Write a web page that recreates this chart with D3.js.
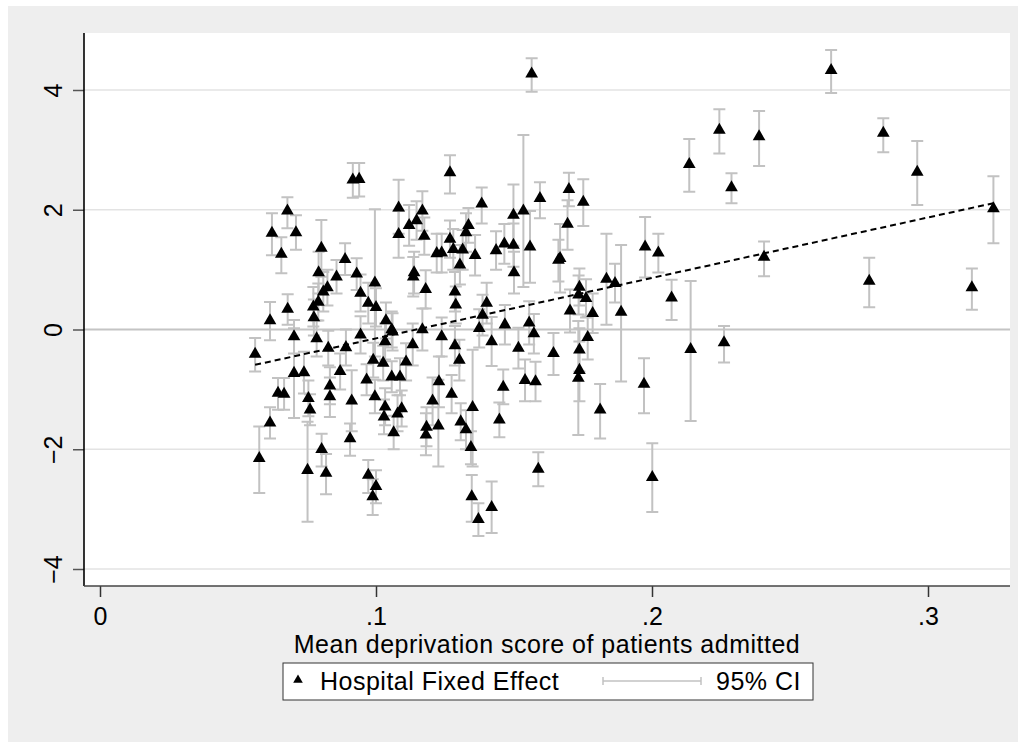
<!DOCTYPE html>
<html>
<head>
<meta charset="utf-8">
<script src="https://cdn.jsdelivr.net/npm/d3@7"></script>
<style>
  body { margin: 0; background: #fff; }
  text { font-family: "Liberation Sans", Arial, sans-serif; fill: #000; }
</style>
</head>
<body>
<div id="chart"></div>
<script>
// Mean deprivation score of each hospital (x)
const deprivation = [
  .0562, .0577, .0616, .0623, .0616, .0645, .0667, .0657, .0679, .0680,
  .0710, .0703, .0739, .0703, .0785, .0755, .0761, .0752, .0803, .0819,
  .0827, .0833, .0833, .0870, .0891, .0912, .0906, .0944, .0966, .0972,
  .1000, .0988, .0990, .0996, .1026, .1033, .1029, .1064, .1057, .1078,
  .1033, .1060, .1087, .1093, .0916, .0939, .0802, .0888, .0792, .0857,
  .0930, .0996, .0824, .0809, .0944, .0791, .0972, .0773, .1000, .0775,
  .1036, .1082, .1082, .1268, .1168, .1383, .1594, .1498, .1534, .1120,
  .1147, .1175, .1335, .1326, .1268, .1280, .1220, .1238, .1314, .1359,
  .1435, .1465, .1498, .1558, .1661, .1304, .1138, .1135, .1500, .1180,
  .1286, .1289, .1401, .1386, .1374, .1467, .1555, .1572, .1168, .1238,
  .1057, .1133, .1109, .1286, .1302, .1228, .1205, .1274, .1350, .1183,
  .1181, .1226, .1307, .1326, .1344, .1347, .1371, .1419, .1419, .1516,
  .1643, .1461, .1540, .1578, .1447, .1588, .2135, .2288, .1699, .1751,
  .1694, .1667, .1975, .2023, .2406, .1835, .1866, .2071, .1737, .1734,
  .1761, .1703, .1785, .1888, .1767, .1737, .1737, .1733, .1812, .1971,
  .2140, .2261, .2001, .2649, .2838, .2961, .3237, .2787, .3159, .2388,
  .2244, .1564
];

// Hospital fixed effect estimates (y)
const fixedEffect = [
  -0.41, -2.15, 0.15, 1.61, -1.56, -1.06, -1.08, 1.26, 1.98, 0.34,
  1.62, -0.73, -0.72, -0.12, -0.15, -1.15, -1.34, -2.35, -2.00, -2.40,
  -0.31, -0.94, -1.12, -0.70, -0.30, -1.19, -1.82, -0.09, -0.84, -2.43,
  -2.62, -2.79, -0.51, -1.12, -0.56, -1.29, -1.46, -1.72, -0.79, -1.41,
  -0.20, -0.04, -0.79, -1.32, 2.50, 2.51, 1.36, 1.17, 0.95, 0.88,
  0.93, 0.78, 0.70, 0.63, 0.61, 0.46, 0.44, 0.38, 0.37, 0.20,
  0.15, 2.03, 1.59, 2.62, 1.98, 2.10, 2.19, 1.91, 1.98, 1.74,
  1.82, 1.56, 1.74, 1.62, 1.51, 1.34, 1.27, 1.28, 1.33, 1.24,
  1.32, 1.43, 1.41, 1.38, 1.16, 1.08, 0.95, 0.88, 0.95, 0.67,
  0.63, 0.41, 0.44, 0.24, 0.02, 0.08, 0.11, -0.07, 0.00, -0.12,
  0.00, -0.25, -0.54, -0.27, -0.51, -0.87, -1.19, -1.08, -1.30, -1.63,
  -1.76, -1.61, -1.54, -1.67, -1.97, -2.79, -3.17, -2.97, -0.20, -0.31,
  -0.40, -0.96, -0.85, -0.87, -1.51, -2.33, 2.76, 2.37, 2.34, 2.13,
  1.76, 1.19, 1.38, 1.28, 1.21, 0.84, 0.77, 0.53, 0.71, 0.58,
  0.52, 0.31, 0.27, 0.29, -0.13, -0.34, -0.68, -0.81, -1.34, -0.91,
  -0.33, -0.22, -2.47, 4.33, 3.28, 2.63, 2.02, 0.81, 0.70, 3.22,
  3.33, 4.27
];

// 95% confidence interval, lower bound
const ciLower = [
  -0.70, -2.73, -0.18, 1.24, -1.82, -1.34, -1.34, 0.94, 1.69, 0.08,
  1.33, -1.48, -1.07, -0.40, -0.45, -1.45, -1.60, -3.21, -2.29, -2.75,
  -0.60, -1.25, -1.46, -1.00, -0.60, -1.70, -2.11, -0.40, -1.10, -2.73,
  -2.90, -3.10, -0.80, -1.40, -0.85, -1.60, -1.75, -2.00, -1.05, -1.70,
  -0.50, -0.35, -1.10, -1.62, 2.20, 2.22, 0.88, 0.91, 0.60, 0.60,
  0.66, -0.45, 0.40, 0.30, 0.30, 0.15, 0.10, 0.05, 0.05, -0.10,
  -0.15, 1.60, 1.20, 2.27, 1.65, 1.77, 1.86, 1.40, 0.71, 1.40,
  1.50, 1.25, 1.45, 1.30, 1.20, 1.00, 0.95, 0.95, 1.00, 0.90,
  1.00, 1.10, 1.05, 0.78, 0.80, 0.75, 0.60, 0.55, 0.60, 0.35,
  0.30, 0.10, 0.10, -0.10, -0.30, -0.25, -0.25, -0.40, -0.35, -0.45,
  -0.30, -0.60, -0.85, -0.60, -0.85, -1.30, -1.60, -1.40, -2.29, -1.95,
  -2.10, -2.29, -1.85, -2.00, -2.25, -3.21, -3.45, -3.40, -0.61, -0.65,
  -0.76, -1.25, -1.20, -1.20, -1.80, -2.62, 2.30, 2.11, 2.06, 1.73,
  1.33, 0.62, 0.87, 0.95, 0.89, 0.08, 0.45, 0.16, 0.40, 0.25,
  0.20, -0.05, -0.06, -0.87, -0.50, -0.70, -1.20, -1.76, -1.82, -1.40,
  -1.53, -0.55, -3.05, 3.95, 2.96, 2.08, 1.44, 0.37, 0.33, 2.73,
  2.94, 3.97
];

// 95% confidence interval, upper bound
const ciUpper = [
  -0.14, -1.62, 0.46, 1.94, -1.30, -0.81, -0.81, 1.54, 2.21, 0.59,
  1.91, 0.02, -0.37, 0.16, 0.15, -0.85, -1.08, -1.54, -1.74, -2.08,
  -0.02, -0.63, -0.80, -0.40, 0.00, -0.68, -1.57, 0.22, -0.58, -2.18,
  -2.35, -2.50, -0.22, -0.84, -0.27, -0.98, -1.17, -1.44, -0.53, -1.10,
  0.10, 0.27, -0.48, -1.02, 2.78, 2.78, 1.83, 1.44, 1.30, 1.16,
  1.19, 2.01, 1.00, 0.96, 0.92, 0.77, 0.78, 0.71, 0.69, 0.50,
  0.45, 2.50, 1.98, 2.91, 2.31, 2.37, 2.46, 2.42, 3.25, 2.08,
  2.14, 1.87, 2.03, 1.94, 1.82, 1.68, 1.60, 1.60, 1.66, 1.58,
  1.64, 1.76, 1.77, 1.98, 1.50, 1.41, 1.30, 1.21, 1.30, 0.99,
  0.96, 0.72, 0.78, 0.58, 0.34, 0.41, 0.47, 0.26, 0.35, 0.20,
  0.30, 0.10, -0.23, 0.06, -0.17, -0.45, -0.80, -0.76, -0.34, -1.30,
  -1.40, -0.84, -1.23, -1.35, -1.70, -2.43, -2.90, -2.54, 0.21, 0.03,
  -0.06, -0.67, -0.50, -0.54, -1.22, -2.05, 3.18, 2.61, 2.62, 2.51,
  2.16, 1.76, 1.88, 1.60, 1.47, 1.60, 1.10, 0.83, 1.02, 0.90,
  0.84, 0.67, 0.60, 1.41, 0.22, 0.02, -0.20, 0.14, -0.91, -0.48,
  0.81, 0.06, -1.90, 4.67, 3.53, 3.15, 2.56, 1.20, 1.02, 3.65,
  3.68, 4.53
];

// Fitted line end points
const fitX = [0.0562, 0.3237];
const fitY = [-0.59, 2.11];

const xTicks = [0, .1, .2, .3];
const yTicks = [-4, -2, 0, 2, 4];
const xTitle = 'Mean deprivation score of patients admitted';
const legendLabels = ['Hospital Fixed Effect', '95% CI'];

const width = 1026;
const height = 748;
const plot = { left: 84, right: 1010, top: 33, bottom: 586 };
const ciColor = '#c2c2c2';

const svg = d3.select('#chart')
    .append('svg')
    .attr('width', width)
    .attr('height', height);

// graph region and plot region
svg.append('rect')
    .attr('x', 8).attr('y', 6)
    .attr('width', 1010).attr('height', 736)
    .attr('fill', '#eeeeee');

svg.append('rect')
    .attr('x', plot.left).attr('y', plot.top)
    .attr('width', plot.right - plot.left).attr('height', plot.bottom - plot.top)
    .attr('fill', '#ffffff');

const xScale = d3.scaleLinear()
    .domain([0, .3])
    .range([100, 928]);

const yScale = d3.scaleLinear()
    .domain([-4, 4])
    .range([569, 90]);

const points = deprivation.map((x, i) => ({
    x, y: fixedEffect[i], lo: ciLower[i], hi: ciUpper[i]
}));

// gridlines
svg.append('g')
    .selectAll('line')
    .data(yTicks.filter(d => d !== 0))
    .join('line')
    .attr('x1', plot.left).attr('x2', plot.right)
    .attr('y1', d => yScale(d)).attr('y2', d => yScale(d))
    .attr('stroke', '#e3e3e3')
    .attr('stroke-width', 1.6);

// reference line at zero
svg.append('line')
    .attr('x1', plot.left).attr('x2', plot.right)
    .attr('y1', yScale(0)).attr('y2', yScale(0))
    .attr('stroke', '#c4c4c4')
    .attr('stroke-width', 2);

// confidence intervals
const ci = svg.append('g')
    .attr('stroke', ciColor)
    .attr('stroke-width', 2)
    .attr('fill', 'none');

ci.selectAll('path')
    .data(points)
    .join('path')
    .attr('d', d => {
        const x = xScale(d.x), y0 = yScale(d.lo), y1 = yScale(d.hi);
        return `M${x},${y0}V${y1}M${x - 6},${y0}H${x + 6}M${x - 6},${y1}H${x + 6}`;
    });

// fitted line
const line = d3.line()
    .x(d => xScale(d[0]))
    .y(d => yScale(d[1]));

svg.append('path')
    .attr('d', line(fitX.map((x, i) => [x, fitY[i]])))
    .attr('fill', 'none')
    .attr('stroke', '#000')
    .attr('stroke-width', 2)
    .attr('stroke-dasharray', '6,4');

// markers
const triangle = d3.symbol().type(d3.symbolTriangle).size(70);

svg.append('g')
    .selectAll('path')
    .data(points)
    .join('path')
    .attr('transform', d => `translate(${xScale(d.x)},${yScale(d.y)})`)
    .attr('d', triangle)
    .attr('fill', '#000');

// axes
const yAxis = svg.append('g')
    .attr('transform', `translate(${plot.left},0)`)
    .call(d3.axisLeft(yScale).tickValues(yTicks).tickSize(11).tickSizeOuter(0).tickFormat(d3.format('d')));

yAxis.select('.domain').remove();
yAxis.selectAll('.tick line').attr('stroke', '#555').attr('stroke-width', 1.5);
yAxis.selectAll('.tick text')
    .attr('transform', 'rotate(-90)')
    .attr('x', 0)
    .attr('y', -22)
    .attr('dy', 0)
    .attr('text-anchor', 'middle')
    .style('font-size', '25px')
    .style('font-family', '"Liberation Sans", Arial, sans-serif');

const xAxis = svg.append('g')
    .attr('transform', `translate(0,${plot.bottom})`)
    .call(d3.axisBottom(xScale).tickValues(xTicks).tickSize(11).tickSizeOuter(0)
        .tickFormat(d => d === 0 ? '0' : d3.format('.1f')(d).replace(/^0/, '')));

xAxis.select('.domain').remove();
xAxis.selectAll('.tick line').attr('stroke', '#333').attr('stroke-width', 1.5);
xAxis.selectAll('.tick text')
    .attr('y', 39)
    .attr('dy', 0)
    .style('font-size', '25px')
    .style('font-family', '"Liberation Sans", Arial, sans-serif');

// axis lines
svg.append('line')
    .attr('x1', plot.left).attr('x2', plot.left)
    .attr('y1', plot.top).attr('y2', plot.bottom)
    .attr('stroke', '#000').attr('stroke-width', 1.6);

svg.append('line')
    .attr('x1', plot.left).attr('x2', plot.right)
    .attr('y1', plot.bottom).attr('y2', plot.bottom)
    .attr('stroke', '#444').attr('stroke-width', 1.6);

// axis title
svg.append('text')
    .attr('x', (plot.left + plot.right) / 2)
    .attr('y', 653)
    .attr('text-anchor', 'middle')
    .style('font-size', '25px')
    .style('letter-spacing', '0.5px')
    .text(xTitle);

// legend
const legend = svg.append('g');

legend.append('rect')
    .attr('x', 283).attr('y', 663)
    .attr('width', 530).attr('height', 37)
    .attr('fill', '#fff')
    .attr('stroke', '#333')
    .attr('stroke-width', 1);

legend.append('path')
    .attr('transform', 'translate(298,680)')
    .attr('d', d3.symbol().type(d3.symbolTriangle).size(40))
    .attr('fill', '#000');

legend.append('text')
    .attr('x', 320).attr('y', 690)
    .style('font-size', '25px')
    .style('letter-spacing', '0.5px')
    .text(legendLabels[0]);

legend.append('path')
    .attr('d', 'M603,681H701M603,677V685M701,677V685')
    .attr('stroke', ciColor)
    .attr('stroke-width', 1.5)
    .attr('fill', 'none');

legend.append('text')
    .attr('x', 716).attr('y', 690)
    .style('font-size', '25px')
    .style('letter-spacing', '0.5px')
    .text(legendLabels[1]);
</script>
</body>
</html>
